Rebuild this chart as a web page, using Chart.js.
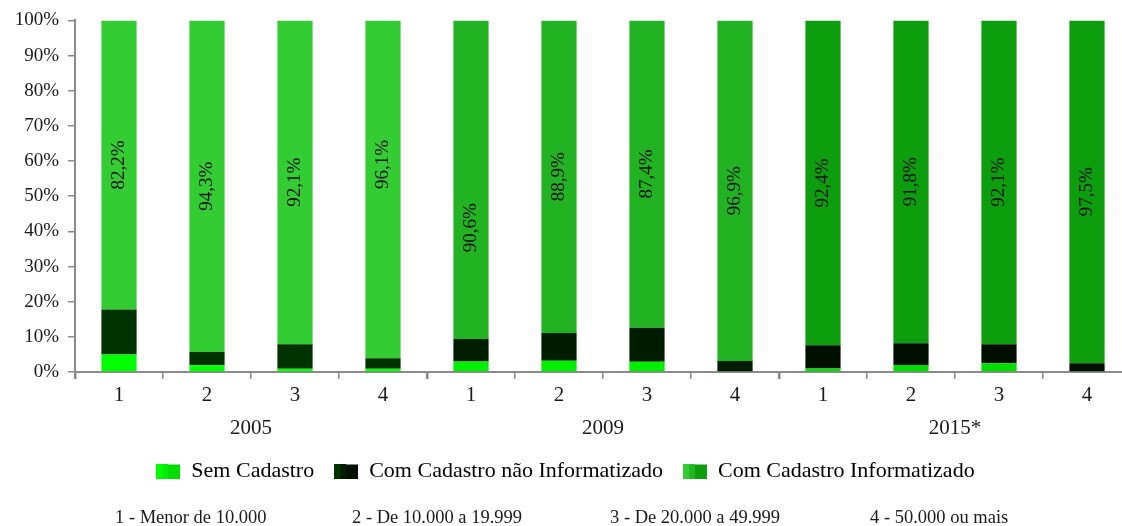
<!DOCTYPE html>
<html><head><meta charset="utf-8">
<script src="https://cdn.jsdelivr.net/npm/chart.js@4.4.1/dist/chart.umd.min.js"></script>
<style>html,body{margin:0;padding:0;background:#fff;overflow:hidden;width:1122px;height:526px}</style>
</head><body>
<canvas id="c" width="1132" height="526" style="display:block;width:1132px;height:526px"></canvas>
<script>
// ---- data ----
const sizeLabels = ['1','2','3','4','1','2','3','4','1','2','3','4'];
const groupLabels = ['2005','2009','2015*'];
const seriesNames = ['Sem Cadastro','Com Cadastro não Informatizado','Com Cadastro Informatizado'];
const semCadastro       = [5.0, 1.9, 0.9, 0.9, 3.0, 3.2, 2.9, 0.2, 1.0, 2.0, 2.5, 0.2];
const comCadastroNaoInf = [12.8, 3.8, 7.0, 3.0, 6.4, 7.9, 9.7, 2.9, 6.6, 6.2, 5.4, 2.3];
const comCadastroInf    = [82.2, 94.3, 92.1, 96.1, 90.6, 88.9, 87.4, 96.9, 92.4, 91.8, 92.1, 97.5];
const footnoteTexts = ['1 - Menor de 10.000','2 - De 10.000 a 19.999','3 - De 20.000 a 49.999','4 - 50.000 ou mais'];

// ---- style ----
const FONT = '"Liberation Serif", "Times New Roman", serif';
const TEXT = '#1a1a1a';
const AXIS = '#8a8a8a';
const palette = [
  ['#00ff00','#00ee00','#00dd00'],
  ['#003300','#001d00','#000f00'],
  ['#33cc33','#21b321','#0c9e0c']
];
const labelStyle = { size: 19, color: '#111', offsets: {3: -25, 4: 48} };
const footnoteStyle = { size: 18.5, y: 518, xs: [115, 352, 610, 870] };

function makeIcon(cols){
  const c = document.createElement('canvas');
  c.width = 24; c.height = 15;
  const g = c.getContext('2d');
  g.fillStyle = cols[0]; g.fillRect(0,0,12,15);
  g.fillStyle = cols[1]; g.fillRect(6,1,12,14);
  g.fillStyle = cols[2]; g.fillRect(12,1,12,14);
  return c;
}
const icons = palette.map(makeIcon);

const fmt = v => v.toFixed(1).replace('.', ',') + '%';

const barValueLabels = {
  id: 'barValueLabels',
  afterDatasetsDraw(chart){
    const meta = chart.getDatasetMeta(2);
    const data = chart.data.datasets[2].data;
    const ctx = chart.ctx;
    ctx.save();
    ctx.font = labelStyle.size + 'px ' + FONT;
    ctx.fillStyle = labelStyle.color;
    ctx.textAlign = 'center';
    ctx.textBaseline = 'middle';
    meta.data.forEach((bar, i) => {
      const cy = (bar.y + bar.base) / 2 + (labelStyle.offsets[i] || 0);
      ctx.save();
      ctx.translate(bar.x, cy);
      ctx.rotate(-Math.PI / 2);
      ctx.fillText(fmt(data[i]), 0, 0);
      ctx.restore();
    });
    ctx.restore();
  }
};

const footnote = {
  id: 'footnote',
  afterDraw(chart){
    const ctx = chart.ctx;
    ctx.save();
    ctx.font = footnoteStyle.size + 'px ' + FONT;
    ctx.fillStyle = TEXT;
    ctx.textAlign = 'left';
    ctx.textBaseline = 'middle';
    footnoteTexts.forEach((t, i) => ctx.fillText(t, footnoteStyle.xs[i], footnoteStyle.y));
    ctx.restore();
  }
};

const datasets = [semCadastro, comCadastroNaoInf, comCadastroInf].map((d, k) => ({
  label: seriesNames[k],
  data: d,
  backgroundColor: ctx => palette[k][Math.floor(ctx.dataIndex / 4)],
  borderWidth: 0,
  barPercentage: 0.4,
  categoryPercentage: 1.0
}));

new Chart(document.getElementById('c'), {
  type: 'bar',
  data: { labels: sizeLabels, datasets },
  options: {
    responsive: false,
    animation: false,
    devicePixelRatio: 1,
    layout: { padding: { top: 19, right: 1, bottom: 34, left: 0 } },
    plugins: {
      tooltip: { enabled: false },
      legend: {
        position: 'bottom',
        labels: {
          font: { family: FONT, size: 22 },
          color: TEXT,
          usePointStyle: true,
          pointStyleWidth: 24,
          boxHeight: 15,
          padding: 20,
          generateLabels: () => seriesNames.map((t, i) => ({
            text: t, pointStyle: icons[i], fillStyle: palette[i][0],
            strokeStyle: 'transparent', lineWidth: 0, hidden: false, datasetIndex: i
          }))
        }
      }
    },
    scales: {
      x: {
        type: 'category',
        stacked: true,
        offset: true,
        grid: { display: true, offset: true, drawOnChartArea: false, drawTicks: true, tickLength: 7,
                color: AXIS, lineWidth: c => (c.index % 4 === 0 ? 2.5 : 1.5) },
        border: { display: true, color: AXIS, width: 2 },
        ticks: { font: { family: FONT, size: 21 }, color: TEXT, padding: 4, maxRotation: 0, autoSkip: false },
        afterFit(s){ s.height = 35; }
      },
      group: {
        type: 'category',
        labels: groupLabels,
        position: 'bottom',
        offset: true,
        grid: { display: false },
        border: { display: false },
        ticks: { font: { family: FONT, size: 21 }, color: TEXT, padding: 1, maxRotation: 0, autoSkip: false },
        afterFit(s){ s.height = 33; }
      },
      y: {
        stacked: true,
        min: 0, max: 100,
        ticks: { stepSize: 10, callback: v => v + '%', font: { family: FONT, size: 19 }, color: TEXT, padding: 9 },
        grid: { display: true, drawOnChartArea: false, tickLength: 7, color: AXIS, lineWidth: 1.5 },
        border: { display: true, color: AXIS, width: 2 },
        afterFit(s){ s.width = 75; }
      }
    }
  },
  plugins: [barValueLabels, footnote]
});
</script>
</body></html>
